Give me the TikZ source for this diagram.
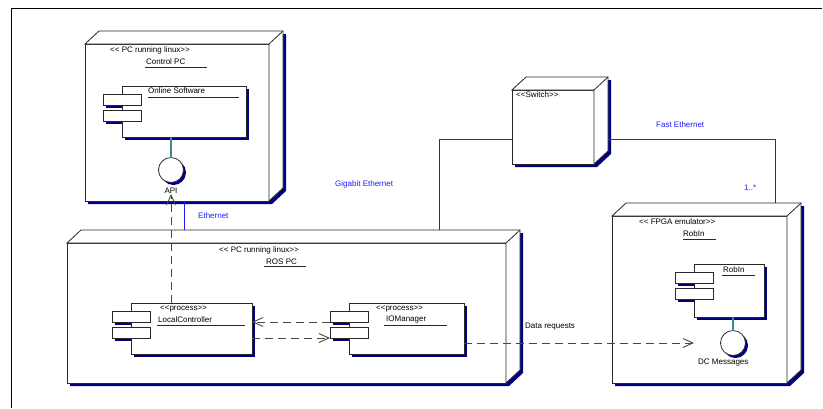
\documentclass[tikz,border=0pt]{standalone}
\usepackage{fontspec}
\setmainfont{Liberation Sans}
\usetikzlibrary{arrows.meta,calc}
\definecolor{shad}{RGB}{0,0,128}
\definecolor{ln}{RGB}{40,40,40}
\definecolor{ethc}{RGB}{30,30,255}
\definecolor{conn}{RGB}{60,140,140}
\definecolor{dashc}{RGB}{70,70,70}
\tikzset{
  edge/.style={draw=ln, line width=0.8pt},
  face/.style={edge, fill=white, inner sep=0pt, outer sep=0pt},
  lbl/.style={font=\fontsize{8}{9.6}\selectfont, inner sep=0pt, anchor=west, text=black},
  elbl/.style={lbl, text=ethc},
  ethline/.style={draw=ethc, line width=1.2pt},
  conl/.style={draw=conn, line width=1.1pt},
  dep/.style={draw=dashc, line width=0.9pt, dash pattern=on 8pt off 5pt, -{Straight Barb[length=10pt,width=9pt]}},
  iface/.style={circle, edge, fill=white, minimum size=25pt, inner sep=0pt, outer sep=0pt},
}
% 3D deployment node: name, x, y, width, height
\newcommand\umlnode[5]{%
  \fill[shad] ({#2+3},{#3+3}) -- ++(14,-13) -- ++(#4,0) -- ++(0,#5) -- ++(-14,13) -- ++(-#4,0) -- cycle;
  \node[face, minimum width=#4, minimum height=#5, anchor=north west] (#1) at (#2,#3) {};
  \draw[edge, fill=white] (#1.north west) -- ++(14,-13) -- ++(#4,0) -- ++(0,#5) -- (#1.south east) -- (#1.north east) -- cycle;
  \draw[edge] (#1.north east) -- ++(14,-13);
}
% component: name, x, y, width, height
\newcommand\umlcomp[5]{%
  \fill[shad] ({#2+3},{#3+3}) rectangle ++(#4,#5);
  \fill[shad] ({#2-19+3},{#3+8+3}) rectangle ++(38,11);
  \fill[shad] ({#2-19+3},{#3+24+3}) rectangle ++(38,11);
  \node[face, minimum width=#4, minimum height=#5, anchor=north west] (#1) at (#2,#3) {};
  \node[face, minimum width=38, minimum height=11, anchor=north west] (#1-p1) at ({#2-19},{#3+8}) {};
  \node[face, minimum width=38, minimum height=11, anchor=north west] (#1-p2) at ({#2-19},{#3+24}) {};
}
\newcommand\umliface[3]{% name, x, y
  \fill[shad] ({#2+2.5},{#3+2.5}) circle (12.5);
  \node[iface] (#1) at (#2,#3) {};
}
\begin{document}
\begin{tikzpicture}[x=1pt, y=-1pt]
\useasboundingbox (0,0) rectangle (823,408);
\fill[white] (0,0) rectangle (823,408);
\draw[black, line width=1pt] (11,408) -- (11,8) -- (822,8);

% ---- nodes ----
\umlnode{ctl}{85}{44}{184}{157}
\umlnode{ros}{67}{243}{439}{140}
\umlnode{sw}{512}{90}{82}{74}
\umlnode{fpga}{612}{216}{175}{167}

% ---- Control PC contents ----
\node[lbl] (ctlst) at (110,50) {<{}< PC running linux>{}>};
\node[lbl] (ctlname) at (146,62) {Control PC};
\draw[edge] (145,67) -- (207,67);
\umlcomp{os}{122}{86}{124}{51}
\node[lbl] (osname) at (148,91) {Online Software};
\draw[edge] (148,97) -- (239,97);
\umliface{api}{171}{170}
\node[lbl, anchor=center] (apil) at (171,191) {API};
\draw[conl] (api.north |- os.south) -- (api.north);

% ---- ROS PC contents ----
\node[lbl] (rosst) at (219,250) {<{}< PC running linux>{}>};
\node[lbl] (rosname) at (266,262) {ROS PC};
\draw[edge] (264,266) -- (306,266);
\umlcomp{lc}{131}{303}{121}{51}
\node[lbl] (lcst) at (160,309) {<{}<process>{}>};
\node[lbl] (lcname) at (158,320) {LocalController};
\draw[edge] (157,325) -- (245,325);
\umlcomp{iom}{349}{303}{115}{51}
\node[lbl] (iomst) at (376,309) {<{}<process>{}>};
\node[lbl] (iomname) at (386,320) {IOManager};
\draw[edge] (384,325) -- (447,325);

% ---- Switch ----
\node[lbl] (swst) at (516,95) {<{}<Switch>{}>};

% ---- FPGA ----
\node[lbl] (fpgast) at (639,222) {<{}< FPGA emulator>{}>};
\node[lbl] (fpganame) at (683,234) {RobIn};
\draw[edge] (683,239) -- (716,239);
\umlcomp{robin}{694}{264}{70}{53}
\node[lbl] (robinname) at (723,270) {RobIn};
\draw[edge] (722,275) -- (755,275);
\umliface{dcm}{733}{343}
\node[lbl] (dcml) at (698,363) {DC Messages};
\draw[conl] (dcm.north |- robin.south) -- (dcm.north);

% ---- network links ----
\coordinate (ethtop) at (184.5,230);
\draw[ethline] (ethtop |- ctl.south) -- (ethtop);
\node[elbl] (ethlab) at (198,216) {Ethernet};
\coordinate (gigtop) at (439.5,230);
\coordinate (gigsw) at ([yshift=-12.5pt]sw.west);
\coordinate (gigbend) at (gigtop |- gigsw);
\draw[ethline] (gigtop) -- (gigbend) -- (gigsw);
\node[elbl] (giglab) at (335,184) {Gigabit Ethernet};
\coordinate (fasttop) at (775.5,203);
\coordinate (fastsw) at ([xshift=14pt,yshift=-12.5pt]sw.east);
\coordinate (fastbend) at (fasttop |- fastsw);
\draw[ethline] (fastsw) -- (fastbend) -- (fasttop);
\node[elbl] (fastlab) at (656,125) {Fast Ethernet};
\node[elbl] (mult) at (744,188) {1..*};

% ---- dependencies ----
\draw[dep] (lc.north -| api.south) -- (apil.south);
\draw[dep] (iom-p1.south west) -- (lc.east |- iom-p1.south west);
\draw[dep] (lc.east |- iom-p2.south west) -- (iom-p2.south west);
\draw[dep] (iom.east |- dcm.center) -- (robin.west |- dcm.center);
\node[lbl] (drl) at (525,327) {Data requests};
\end{tikzpicture}
\end{document}
